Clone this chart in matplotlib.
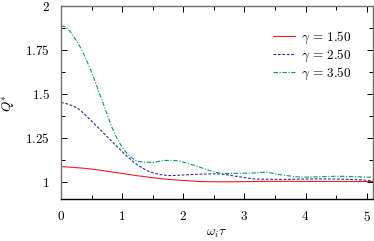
import matplotlib
matplotlib.use("Agg")
import matplotlib.pyplot as plt
from matplotlib.ticker import FixedLocator, FuncFormatter, MultipleLocator
import numpy as np

plt.rcParams['mathtext.fontset'] = 'cm'
plt.rcParams['font.family'] = ['serif']
plt.rcParams['font.serif'] = ['DejaVu Serif']

# Data
x_red = [0.0, 0.05, 0.45, 0.78, 1.10, 1.43, 1.70, 2.0, 2.28, 2.66, 3.10, 3.6, 4.0, 4.5, 5.0, 5.1]
y_red = [1.085, 1.084, 1.073, 1.057, 1.040, 1.025, 1.014, 1.006, 1.000, 0.998, 1.000, 1.001, 1.001, 1.000, 1.000, 1.000]

x_blue = [0.0, 0.05, 0.257, 0.448, 0.667, 0.885, 1.10, 1.27, 1.49, 1.70, 1.79, 2.11, 2.55, 2.88, 3.21, 3.64, 4.19, 4.74, 5.01, 5.1]
y_blue = [1.450, 1.447, 1.420, 1.362, 1.286, 1.210, 1.138, 1.090, 1.051, 1.036, 1.034, 1.040, 1.044, 1.029, 1.014, 1.012, 1.015, 1.012, 1.006, 1.005]

x_green = [0.0, 0.05, 0.257, 0.448, 0.557, 0.667, 0.776, 0.885, 0.995, 1.13, 1.27, 1.49, 1.70, 1.84, 2.11, 2.39, 2.66, 3.10, 3.32, 3.64, 3.97, 4.52, 5.01, 5.1]
y_green = [1.887, 1.884, 1.800, 1.667, 1.571, 1.467, 1.362, 1.267, 1.200, 1.143, 1.114, 1.109, 1.120, 1.120, 1.100, 1.067, 1.046, 1.048, 1.053, 1.036, 1.025, 1.030, 1.025, 1.024]

labels = [r'$\gamma\,=\,1.50$', r'$\gamma\,=\,2.50$', r'$\gamma\,=\,3.50$']
x_ticks = [0, 1, 2, 3, 4, 5]
y_ticks = [1, 1.25, 1.5, 1.75, 2]
y_tick_labels = ['1', '1.25', '1.5', '1.75', '2']


def smooth(xs, ys, n=400):
    xs = np.asarray(xs); ys = np.asarray(ys)
    xx = np.linspace(xs[0], xs[-1], n)
    # monotone cubic (PCHIP-like) interpolation
    h = np.diff(xs); d = np.diff(ys) / h
    m = np.zeros_like(ys)
    m[0] = d[0]; m[-1] = d[-1]
    for k in range(1, len(xs) - 1):
        if d[k-1] * d[k] <= 0:
            m[k] = 0
        else:
            w1 = 2 * h[k] + h[k-1]; w2 = h[k] + 2 * h[k-1]
            m[k] = (w1 + w2) / (w1 / d[k-1] + w2 / d[k])
    idx = np.clip(np.searchsorted(xs, xx) - 1, 0, len(xs) - 2)
    t = (xx - xs[idx]) / h[idx]
    h00 = 2*t**3 - 3*t**2 + 1; h10 = t**3 - 2*t**2 + t
    h01 = -2*t**3 + 3*t**2; h11 = t**3 - t**2
    yy = h00*ys[idx] + h10*h[idx]*m[idx] + h01*ys[idx+1] + h11*h[idx]*m[idx+1]
    return xx, yy


fig = plt.figure(figsize=(3.74, 2.41), dpi=100)
ax = fig.add_axes([0.163, 0.174, 0.834, 0.801])

xr, yr = smooth(x_red, y_red)
xb, yb = smooth(x_blue, y_blue)
xg, yg = smooth(x_green, y_green)
ax.plot(xr, yr, color='#e8202a', lw=0.8, ls='-', label=labels[0])
ax.plot(xb, yb, color='#2d2d9a', lw=0.8, ls=(0, (2.5, 1.5)), label=labels[1])
ax.plot(xg, yg, color='#0a9a6a', lw=0.8, ls=(0, (4, 1.5, 1, 1.5)), label=labels[2])

ax.set_xlim(0, 5.1)
ax.set_ylim(0.9, 2.0)
ax.xaxis.set_major_locator(FixedLocator(x_ticks))
ax.xaxis.set_minor_locator(MultipleLocator(0.5))
ax.yaxis.set_major_locator(FixedLocator(y_ticks))
ax.yaxis.set_minor_locator(MultipleLocator(0.125))
ax.xaxis.set_major_formatter(FuncFormatter(lambda v, p: r'$%d$' % round(v)))
ax.set_yticklabels([r'$%s$' % s for s in y_tick_labels])

ax.tick_params(which='both', direction='in', top=True, right=True, labelsize=9.5, color='black', width=0.7)
ax.tick_params(which='major', length=4, pad=8)
ax.tick_params(which='minor', length=3)
for s in ax.spines.values():
    s.set_color('#707070')
    s.set_linewidth(1.0)
ax.spines['bottom'].set_color('black')

ax.set_xlabel(r'$\omega_i\tau$', fontsize=9.5, labelpad=2)
ax.set_ylabel(r'$Q^{*}$', fontsize=9.5, labelpad=6)

leg = ax.legend(loc='upper right', frameon=False, fontsize=9.5, handlelength=1.6,
                handletextpad=0.5, labelspacing=0.15, bbox_to_anchor=(0.97, 0.94))

fig.savefig('out.png', dpi=100)
